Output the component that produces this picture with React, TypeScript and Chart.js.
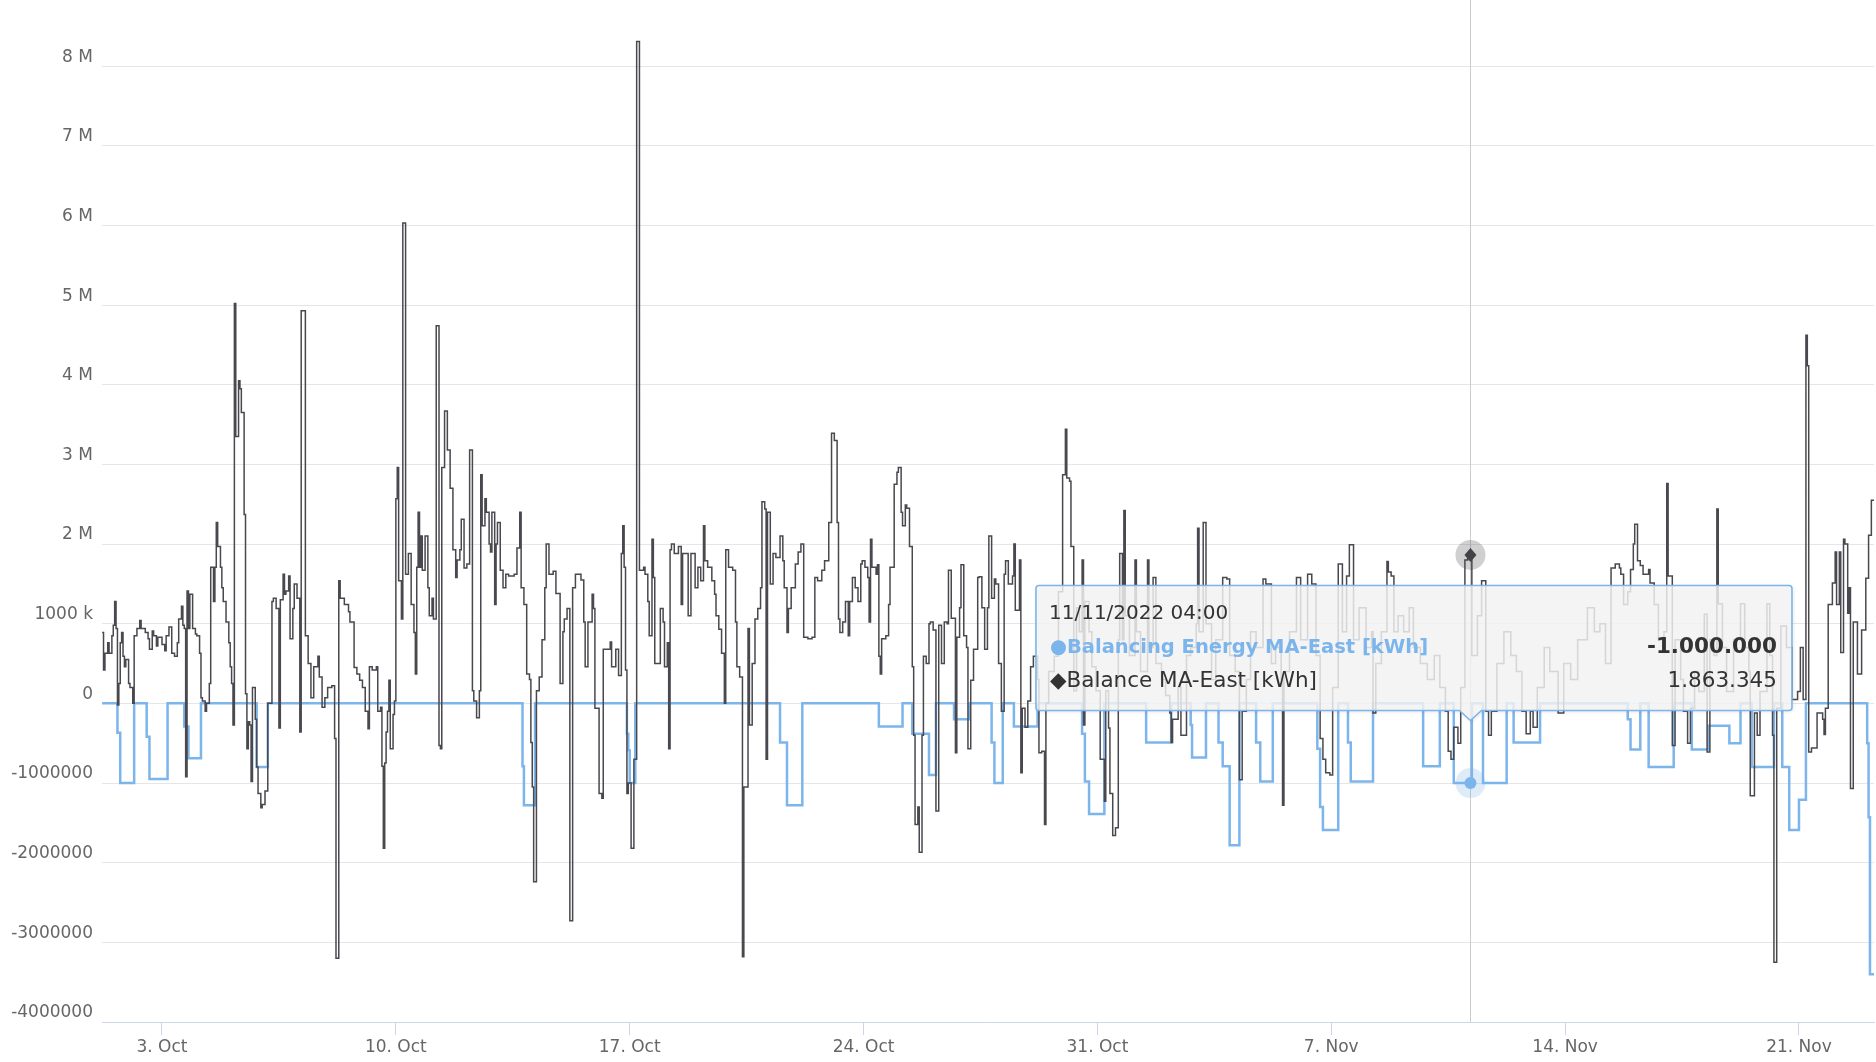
import React, { useEffect, useRef } from "react";
import { Chart, registerables } from "chart.js";

Chart.register(...registerables);

// ---- axis ticks (x values are hours since 1 Oct 2022 00:00) ----
const xTickHours = [48, 216, 384, 552, 720, 888, 1056, 1224];
const xTickLabels = ["3. Oct", "10. Oct", "17. Oct", "24. Oct", "31. Oct", "7. Nov", "14. Nov", "21. Nov"];
const yTickValues = [-4000000, -3000000, -2000000, -1000000, 0, 1000000, 2000000, 3000000, 4000000, 5000000, 6000000, 7000000, 8000000];
const yTickLabels = ["-4000000", "-3000000", "-2000000", "-1000000", "0", "1000 k", "2 M", "3 M", "4 M", "5 M", "6 M", "7 M", "8 M"];

// ---- series: [hour, value in thousand kWh] ----
const balancingEnergySteps: [number, number][] = [
  [5, 0], [16, -370], [18, -1000], [28, 0], [37, -420], [39, -950], [52, 0], [64, -290], [67, -690], [76, 0],
  [116, -800], [124, 0], [307, -790], [308, -1280], [316, 0], [382, -380], [383, -590], [384, -1000], [388, 0],
  [492, -490], [497, -1280], [508, 0], [563, -290], [580, 0], [587, -380], [599, -900], [604, 0], [617, -200],
  [628, 0], [644, -490], [646, -1000], [652, 0], [660, -290], [677, 0], [709, -380], [711, -980], [714, -1390],
  [725, 0], [755, -490], [773, 0], [787, -270], [788, -680], [798, 0], [807, -490], [810, -790], [815, -1780],
  [822, 0], [834, -490], [837, -980], [846, 0], [878, -570], [880, -1300], [882, -1590], [893, 0], [900, -490],
  [902, -980], [918, 0], [954, -790], [966, 0], [976, -1000], [989, 0], [997, -1000], [1014, 0], [1019, -490],
  [1038, 0], [1101, -200], [1103, -580], [1110, 0], [1116, -800], [1134, 0], [1147, -580], [1159, -280],
  [1174, -500], [1182, 0], [1190, -800], [1206, 0], [1212, -800], [1217, -1590], [1224, -1210], [1229, 0],
  [1273, -500], [1274, -1430], [1275, -3400], [1278, -3400],
];

const balanceOct1: [number, number][] = [
  [5, 890], [6, 420], [7, 630], [9, 760], [10, 630], [12, 850], [13, 980], [14, 1280], [15, 940], [16, -20],
  [17, 250], [18, 760], [19, 890], [20, 590], [21, 460], [22, 550], [24, 250], [25, 200], [27, 0], [28, 850],
  [30, 940], [32, 1040], [33, 940], [36, 890], [38, 810], [39, 680], [41, 910], [42, 850], [44, 720], [45, 830],
  [48, 740], [50, 660], [51, 850], [53, 960], [55, 630], [57, 590], [59, 760], [60, 1060], [62, 1220], [63, 980],
  [64, 940], [65, -920], [66, 1410], [67, 940], [68, 1370], [70, 940], [72, 870], [73, 850], [75, 630], [76, 70],
  [77, 30], [79, -100], [80, 0], [82, 250], [83, 1710], [85, 1280], [86, 1710], [87, 2270], [88, 1970], [90, 1710],
  [91, 1450], [92, 1280], [94, 1020], [96, 760], [97, 460], [98, 250], [99, -270], [100, 5020], [101, 3350],
  [103, 4050], [104, 3950], [105, 3650], [107, 2370], [108, 120], [109, -570], [110, -230], [111, -270],
  [112, -980], [113, 200], [115, -200], [116, -800], [117, -1130], [119, -1310], [120, -1270], [122, -1100],
  [124, 0], [127, 1280], [128, 1320], [130, 1190], [132, -310], [133, 1300], [135, 1620], [136, 1370],
  [137, 1410], [139, 1600], [140, 810], [142, 1190], [143, 1500], [145, 1320], [147, -360], [148, 4930],
  [151, 850], [153, 500], [155, 70], [157, 460], [160, 590], [161, 330], [163, -50], [165, 70], [167, 200],
  [170, 220], [172, -440], [173, -3200], [175, 1540], [176, 1320], [179, 1240], [182, 1150], [183, 1020],
  [186, 450],
];

const balanceOct8: [number, number][] = [
  [188, 370], [190, 290], [192, 200], [194, -100], [196, -320], [197, 460], [199, 420], [202, 460], [203, -100],
  [205, -50], [206, -790], [207, -1820], [208, -750], [209, -360], [210, -100], [211, 290], [212, -570],
  [214, -140], [215, 30], [216, 2570], [217, 2960], [218, 1540], [220, 1060], [221, 6030], [223, 1620],
  [225, 1880], [226, 1880], [227, 1240], [229, 890], [230, 370], [231, 1710], [232, 2400], [233, 1710],
  [234, 2100], [235, 1670], [237, 2100], [239, 1450], [240, 1100], [242, 1320], [243, 1060], [245, 4740],
  [247, -530], [248, -570], [249, 2960], [251, 3670], [253, 3180], [255, 2700], [257, 1930], [259, 1580],
  [260, 1800], [262, 1930], [263, 2310], [265, 1700], [267, 1750], [269, 3180], [270, 3180], [271, 160],
  [272, 30], [274, -180], [276, 160], [277, 2870], [278, 2230], [280, 2570], [281, 2400], [283, 2000],
  [284, 1900], [285, 2400], [287, 1240], [288, 2000], [289, 2270], [291, 1670], [293, 1450], [295, 1620],
  [297, 1600], [301, 1620], [303, 1950], [305, 2400], [306, 1450], [308, 1240], [310, 370], [312, 300],
  [313, -490], [314, -1050], [315, -2240], [317, 160], [319, 330], [321, 800], [323, 1450], [324, 2000],
  [326, 1620], [329, 1660], [331, 1380], [334, 250], [336, 900], [337, 1060], [339, 1190], [341, -2730],
  [343, 1450], [345, 1620], [349, 1550], [351, 1020], [352, 460], [354, 1020], [357, 1370], [358, 1190],
  [359, -60], [362, -1130], [364, -1190], [365, 680], [370, 770],
];

const balanceOct16: [number, number][] = [
  [371, 460], [374, 680], [376, 350], [378, 1880], [379, 2230], [380, 1710], [381, 420], [382, -1130],
  [383, -1000], [385, -1820], [387, -700], [389, 8310], [391, 1670], [394, 1710], [395, 1620], [397, 1280],
  [398, 850], [400, 2060], [401, 1580], [402, 500], [404, 500], [406, 1190], [408, 1020], [409, 460],
  [411, 760], [412, -570], [413, 1930], [414, 2000], [416, 1880], [419, 1970], [421, 1240], [422, 1880],
  [426, 1100], [428, 1880], [431, 1450], [433, 1710], [435, 1540], [437, 2230], [438, 1790], [440, 1710],
  [443, 1540], [445, 1370], [446, 1100], [448, 930], [450, 630], [452, 0], [453, 1930], [455, 1710],
  [458, 1670], [460, 1020], [461, 460], [463, 330], [465, -3180], [466, -1050], [469, 940], [470, -270],
  [472, 500], [474, 1060], [476, 1190], [478, 1450], [479, 2530], [481, 2440], [482, -700], [483, 2400],
  [485, 1500], [487, 1880], [489, 1830], [492, 2100], [494, 1790], [495, 1450], [497, 890], [498, 1190],
  [500, 1450], [503, 1750], [505, 1900], [507, 2000], [509, 830], [512, 810], [515, 830], [517, 1580],
  [519, 1540], [522, 1670], [524, 1790], [527, 2270], [529, 3390], [531, 3300], [533, 2270], [534, 1060],
  [535, 890], [537, 1020], [539, 1280], [541, 850], [542, 1280], [544, 1580], [546, 1450], [548, 1280],
  [550, 1750],
];

const balanceOct24: [number, number][] = [
  [551, 1790], [553, 1710], [555, 1580], [556, 1020], [557, 2060], [558, 1710], [561, 1620], [562, 1740],
  [563, 590], [564, 370], [565, 810], [568, 850], [570, 1240], [571, 1710], [574, 2750], [576, 2900],
  [577, 2960], [579, 2400], [580, 2230], [582, 2490], [583, 2450], [585, 1970], [587, 460], [588, -400],
  [589, -1520], [591, -1300], [592, -1870], [594, -400], [595, 590], [597, 500], [599, 1000], [600, 1020],
  [602, 920], [604, -1350], [606, 980], [608, 500], [610, 1020], [612, 1000], [613, 1670], [615, 1070],
  [618, -620], [619, 830], [621, 1200], [622, 1740], [624, 850], [626, 700], [627, -570], [629, 290],
  [631, 680], [634, 1580], [635, 1590], [637, 1200], [639, 680], [641, 1200], [642, 2100], [644, 1320],
  [646, 1560], [647, 1500], [649, 500], [651, -100], [653, 1620], [654, 1790], [656, 1500], [659, 1600],
  [660, 2000], [661, 1170], [664, 1800], [665, -870], [666, -60], [668, -300], [670, 30], [672, 460],
  [674, 590], [677, 300], [678, -620], [680, -600], [682, -1520], [683, 0], [685, 400], [689, 590],
  [692, 1400], [695, 2870], [697, 3440], [698, 2830], [700, 2790], [701, 1970], [703, 160], [705, 1200],
  [707, 900], [709, 1800], [710, -270], [711, 1280], [714, 900], [716, 460], [719, 160], [722, -700],
  [725, -1230], [726, 160], [728, -310], [729, -1130], [731, -1660],
];

const balanceNov1: [number, number][] = [
  [733, -1560], [735, 800], [736, 1880], [738, 800], [739, 2420], [740, 1100], [743, 600], [747, 1800],
  [748, 900], [751, 400], [756, 1800], [757, 700], [760, 1580], [762, 500], [766, 300], [769, 100],
  [772, -120], [773, -490], [774, -200], [778, 200], [780, -400], [784, 600], [787, 700], [791, 1000],
  [792, 2200], [793, 900], [796, 2270], [798, 1000], [802, 300], [805, 800], [810, 1580], [813, 1560],
  [815, 600], [819, 400], [822, -960], [824, -100], [827, 300], [830, 900], [834, 700], [839, 1560],
  [841, 1500], [845, 500], [848, 700], [852, 300], [853, -1280], [854, 400], [858, 900], [863, 1580],
  [866, 800], [871, 1620], [874, 1500], [877, 600], [880, -440], [882, -700], [884, -870], [887, -900],
  [889, 200], [893, 1750], [896, 900], [899, 1600], [901, 1990], [904, 800], [908, 1200], [913, 700],
  [917, 900],
];

const balanceNov9: [number, number][] = [
  [918, -120], [920, 500], [924, 900], [928, 1780], [929, 1650], [931, 1600], [933, 900], [936, 1100],
  [940, 900], [944, 1200], [947, 700], [952, 500], [957, 300], [962, 600], [966, 200], [970, -100],
  [972, -600], [974, -700], [976, -300], [979, -500], [981, 200], [984, 1800], [986, 1850], [988, 1863.345],
  [989, 600], [993, 1100], [996, 1540], [999, -100], [1001, -400], [1003, -100], [1007, 500], [1012, 900],
  [1017, 600], [1021, 400], [1025, -100], [1028, -380], [1031, -100], [1033, -300], [1036, 200], [1041, 700],
  [1045, 400], [1051, -120], [1055, 500], [1060, 300], [1065, 800], [1072, 1200], [1077, 900], [1081, 1000],
  [1085, 500], [1089, 1700], [1092, 1750], [1095, 1700],
];

const balanceNov16: [number, number][] = [
  [1096, 1620], [1098, 1240], [1101, 1400], [1103, 1680], [1105, 2000], [1106, 2250], [1108, 1790],
  [1110, 1730], [1112, 1620], [1114, 1620], [1116, 1680], [1117, 1510], [1120, 1240], [1123, 800],
  [1127, 900], [1129, 2760], [1130, 1600], [1133, -530], [1135, 800], [1139, 300], [1141, -100],
  [1144, -500], [1146, -60], [1149, 400], [1152, 150], [1156, 1120], [1158, -610], [1160, 800], [1163, 600],
  [1165, 2440], [1166, 1250], [1169, 700], [1172, 150], [1177, 800], [1182, 1250], [1185, 700], [1188, 400],
  [1189, -1160], [1192, -120], [1194, -400], [1196, 150], [1201, 1250], [1203, 600], [1205, -400],
  [1206, -3250], [1208, -60], [1211, 970], [1215, 700], [1219, 50], [1223, 150], [1225, 700], [1227, 50],
  [1229, 4620], [1230, 4240], [1231, -610], [1233, -560], [1237, -120], [1241, -200], [1242, -390],
  [1243, -60], [1245, 1240], [1248, 1510], [1250, 1900], [1251, 1240], [1253, 1900], [1254, 640],
  [1256, 2060], [1257, 2000], [1259, 1130], [1260, 1450], [1261, -1070], [1263, 1020], [1266, 370],
  [1268, 370], [1269, 920], [1272, 1570], [1274, 2110], [1276, 2550], [1278, 2550],
];

// ---- hovered point / tooltip content ----
const hoverHour = 988;
const tooltipHeader = "11/11/2022 04:00";
const tooltipRows = [
  { name: "●Balancing Energy MA-East [kWh]", value: "-1.000.000", y: -1000000, color: "#7cb5ec", nameBold: true, valueBold: true },
  { name: "◆Balance MA-East [kWh]", value: "1.863.345", y: 1863345, color: "#333333", nameBold: false, valueBold: false },
];

const FONT = '"DejaVu Sans", sans-serif';

const overlayPlugin = {
  id: "hoverOverlay",
  beforeDatasetsDraw(chart: any) {
    const { ctx, chartArea, scales } = chart;
    const px = Math.round(scales.x.getPixelForValue(hoverHour)) + 0.5;
    ctx.save();
    ctx.strokeStyle = "#cccccc";
    ctx.lineWidth = 1;
    ctx.beginPath();
    ctx.moveTo(px, chartArea.top);
    ctx.lineTo(px, chartArea.bottom);
    ctx.stroke();
    ctx.restore();
  },
  afterDatasetsDraw(chart: any) {
    const { ctx, scales } = chart;
    const px = scales.x.getPixelForValue(hoverHour);
    const yBlue = scales.y.getPixelForValue(tooltipRows[0].y);
    const yBlack = scales.y.getPixelForValue(tooltipRows[1].y);
    ctx.save();
    // halos
    ctx.fillStyle = "rgba(124,181,236,0.25)";
    ctx.beginPath();
    ctx.arc(px, yBlue, 15, 0, Math.PI * 2);
    ctx.fill();
    ctx.fillStyle = "rgba(67,67,72,0.25)";
    ctx.beginPath();
    ctx.arc(px, yBlack, 15, 0, Math.PI * 2);
    ctx.fill();
    // markers
    ctx.fillStyle = "#7cb5ec";
    ctx.beginPath();
    ctx.arc(px, yBlue, 6, 0, Math.PI * 2);
    ctx.fill();
    ctx.fillStyle = "#434348";
    ctx.beginPath();
    ctx.moveTo(px, yBlack - 7);
    ctx.lineTo(px + 6, yBlack);
    ctx.lineTo(px, yBlack + 7);
    ctx.lineTo(px - 6, yBlack);
    ctx.closePath();
    ctx.fill();

    // tooltip box with caret
    const left = px - 434.5;
    const right = px + 321.5;
    const top = 585.5;
    const bottom = 710.5;
    const r = 3;
    const cw = 11;
    const ch = 10;
    ctx.beginPath();
    ctx.moveTo(left + r, top);
    ctx.lineTo(right - r, top);
    ctx.arcTo(right, top, right, top + r, r);
    ctx.lineTo(right, bottom - r);
    ctx.arcTo(right, bottom, right - r, bottom, r);
    ctx.lineTo(px + cw, bottom);
    ctx.lineTo(px, bottom + ch);
    ctx.lineTo(px - cw, bottom);
    ctx.lineTo(left + r, bottom);
    ctx.arcTo(left, bottom, left, bottom - r, r);
    ctx.lineTo(left, top + r);
    ctx.arcTo(left, top, left + r, top, r);
    ctx.closePath();
    ctx.shadowColor = "rgba(0,0,0,0.15)";
    ctx.shadowOffsetX = 1;
    ctx.shadowOffsetY = 1;
    ctx.shadowBlur = 4;
    ctx.fillStyle = "rgba(248,248,248,0.82)";
    ctx.fill();
    ctx.shadowColor = "transparent";
    ctx.strokeStyle = "#7cb5ec";
    ctx.lineWidth = 1.6;
    ctx.stroke();

    // texts
    ctx.textBaseline = "alphabetic";
    ctx.textAlign = "left";
    ctx.fillStyle = "#333333";
    ctx.font = `20px ${FONT}`;
    ctx.fillText(tooltipHeader, left + 13, 619);
    const baselines = [653, 687];
    tooltipRows.forEach((row, i) => {
      ctx.textAlign = "left";
      ctx.fillStyle = row.color;
      ctx.font = `${row.nameBold ? "bold " : ""}${row.nameBold ? 19.5 : 21.5}px ${FONT}`;
      ctx.fillText(row.name, left + 14, baselines[i]);
      ctx.textAlign = "right";
      ctx.fillStyle = "#333333";
      ctx.font = `${row.valueBold ? "bold " : ""}21.5px ${FONT}`;
      ctx.fillText(row.value, right - 15, baselines[i]);
    });
    ctx.restore();
  },
};

export default function App() {
  const canvasRef = useRef<HTMLCanvasElement | null>(null);

  useEffect(() => {
    if (!canvasRef.current) return;
    const balance = [
      ...balanceOct1, ...balanceOct8, ...balanceOct16, ...balanceOct24,
      ...balanceNov1, ...balanceNov9, ...balanceNov16,
    ];
    const chart = new Chart(canvasRef.current, {
      type: "line",
      data: {
        datasets: [
          {
            label: "Balancing Energy MA-East [kWh]",
            data: balancingEnergySteps.map(([h, v]) => ({ x: h, y: v * 1000 })),
            borderColor: "#7cb5ec",
            borderWidth: 2.5,
            stepped: true,
            pointRadius: 0,
            fill: false,
            order: 1,
          },
          {
            label: "Balance MA-East [kWh]",
            data: balance.map(([h, v]) => ({ x: h, y: v * 1000 })),
            borderColor: "#48484e",
            borderWidth: 1.5,
            stepped: true,
            pointRadius: 0,
            fill: false,
            order: 0,
          },
        ],
      },
      options: {
        animation: false,
        responsive: false,
        maintainAspectRatio: false,
        layout: { padding: { left: 0, right: 2, top: 0, bottom: 0 } },
        plugins: { legend: { display: false }, tooltip: { enabled: false } },
        scales: {
          x: {
            type: "linear",
            min: 4.9,
            max: 1277.9,
            afterBuildTicks: (s: any) => {
              s.ticks = xTickHours.map((v) => ({ value: v }));
            },
            afterFit: (s: any) => {
              s.height = 40;
              s.paddingLeft = 0;
              s.paddingRight = 0;
            },
            ticks: {
              autoSkip: false,
              maxRotation: 0,
              minRotation: 0,
              color: "#666666",
              padding: 2,
              font: { family: FONT, size: 17 },
              callback: (_v: any, i: number) => xTickLabels[i],
            },
            grid: {
              drawOnChartArea: false,
              drawTicks: true,
              tickLength: 13,
              tickColor: "#ccd6eb",
              color: "#ccd6eb",
            },
            border: { display: true, color: "#ccd6eb", width: 1 },
          },
          y: {
            type: "linear",
            min: -4000000,
            max: 8830000,
            afterBuildTicks: (s: any) => {
              s.ticks = yTickValues.map((v) => ({ value: v }));
            },
            afterFit: (s: any) => {
              s.width = 102;
              s.paddingTop = 0;
              s.paddingBottom = 0;
            },
            ticks: {
              color: "#666666",
              padding: 9,
              labelOffset: -9,
              font: { family: FONT, size: 17 },
              callback: (_v: any, i: number) => yTickLabels[i],
            },
            grid: { color: "#e6e6e6", lineWidth: 1, drawTicks: false },
            border: { display: false },
          },
        },
      },
      plugins: [overlayPlugin],
    } as any);
    return () => chart.destroy();
  }, []);

  return (
    <div style={{ position: "absolute", left: 0, top: 0, width: 1876, height: 1062, background: "#ffffff" }}>
      <canvas ref={canvasRef} width={1876} height={1062} style={{ display: "block" }} />
    </div>
  );
}
